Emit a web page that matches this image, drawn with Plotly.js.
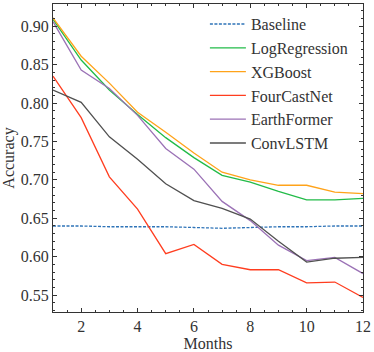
<!DOCTYPE html>
<html>
<head>
<meta charset="utf-8">
<script src="https://cdn.plot.ly/plotly-3.0.1.min.js"></script>
<style>
  html, body { margin: 0; padding: 0; background: #fff; }
  #chart { width: 374px; height: 352px; }
</style>
</head>
<body>
<div id="chart"></div>
<script>
// Forecast accuracy by lead month
const months = [1, 2, 3, 4, 5, 6, 7, 8, 9, 10, 11, 12];

const baseline      = [0.640, 0.640, 0.639, 0.639, 0.639, 0.638, 0.637, 0.638, 0.639, 0.639, 0.640, 0.640];
const logRegression = [0.909, 0.856, 0.817, 0.785, 0.755, 0.729, 0.706, 0.697, 0.685, 0.674, 0.674, 0.676];
const xgBoost       = [0.911, 0.861, 0.826, 0.788, 0.762, 0.735, 0.710, 0.700, 0.693, 0.693, 0.684, 0.682];
const fourCastNet   = [0.835, 0.781, 0.704, 0.662, 0.604, 0.616, 0.590, 0.583, 0.583, 0.566, 0.567, 0.547];
const earthFormer   = [0.906, 0.843, 0.819, 0.784, 0.741, 0.714, 0.672, 0.647, 0.615, 0.595, 0.599, 0.578];
const convLSTM      = [0.817, 0.801, 0.756, 0.727, 0.695, 0.673, 0.663, 0.649, 0.620, 0.593, 0.598, 0.599];

const seriesNames = ['Baseline', 'LogRegression', 'XGBoost', 'FourCastNet', 'EarthFormer', 'ConvLSTM'];
const seriesData = [baseline, logRegression, xgBoost, fourCastNet, earthFormer, convLSTM];
const seriesColors = ['#2f74b8', '#22bb48', '#ffa31a', '#ff3d1f', '#9b72b6', '#505050'];

const serif = 'Liberation Serif, Times New Roman, serif';

const traces = seriesData.map((ys, i) => ({
    x: months,
    y: ys,
    type: 'scatter',
    mode: 'lines',
    name: seriesNames[i],
    line: { color: seriesColors[i], width: 1.3, dash: i === 0 ? '3px,1.5px' : 'solid' }
}));

const axisCommon = {
    showgrid: false,
    zeroline: false,
    showline: true,
    linecolor: '#333',
    linewidth: 1,
    mirror: 'allticks',
    ticks: 'inside',
    ticklen: 4,
    tickcolor: '#333',
    tickfont: { family: serif, size: 16, color: '#333' }
};

const layout = {
    width: 374,
    height: 352,
    margin: { l: 53, r: 11, t: 4, b: 40 },
    paper_bgcolor: '#fff',
    plot_bgcolor: '#fff',
    showlegend: true,
    legend: {
        x: 0.49, y: 0.99, xanchor: 'left', yanchor: 'top',
        bgcolor: 'rgba(0,0,0,0)',
        font: { family: serif, size: 16, color: '#333' },
        tracegroupgap: 0,
        itemwidth: 36
    },
    xaxis: {
        ...axisCommon,
        range: [1, 12],
        tickvals: [2, 4, 6, 8, 10, 12],
        minor: { dtick: 0.5, tick0: 1, ticks: 'inside', ticklen: 2, tickcolor: '#333' },
        title: { text: 'Months', font: { family: serif, size: 16, color: '#333' }, standoff: 2 }
    },
    yaxis: {
        ...axisCommon,
        range: [0.528, 0.929],
        tickvals: [0.55, 0.60, 0.65, 0.70, 0.75, 0.80, 0.85, 0.90],
        tickformat: '.2f',
        minor: { dtick: 0.01, tick0: 0.5, ticks: 'inside', ticklen: 2, tickcolor: '#333' },
        title: { text: 'Accuracy', font: { family: serif, size: 16, color: '#333' }, standoff: 5 }
    }
};

Plotly.newPlot('chart', traces, layout, { displayModeBar: false, staticPlot: true });
</script>
</body>
</html>
